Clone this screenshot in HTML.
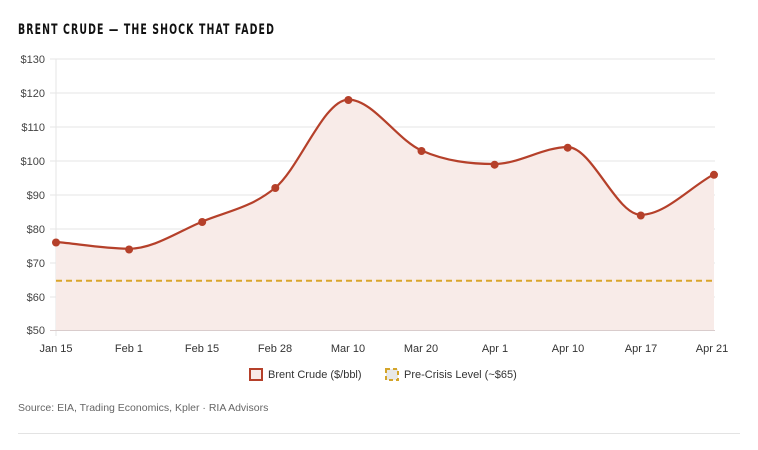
<!DOCTYPE html>
<html><head><meta charset="utf-8"><style>
body{margin:0;background:#fff;width:758px;height:445px;overflow:hidden;font-family:"Liberation Sans",sans-serif}
</style></head><body>
<svg width="758" height="445" viewBox="0 0 758 445" xmlns="http://www.w3.org/2000/svg">
<text x="18" y="34" font-family="DejaVu Sans Condensed,Liberation Sans Narrow,Liberation Sans,sans-serif" font-weight="bold" font-size="14" letter-spacing="1.5" fill="#111" textLength="257" lengthAdjust="spacingAndGlyphs">BRENT CRUDE — THE SHOCK THAT FADED</text>
<g stroke="#e6e6e6" stroke-width="1">
<line x1="50" y1="59" x2="715" y2="59"/><line x1="50" y1="93" x2="715" y2="93"/><line x1="50" y1="127" x2="715" y2="127"/><line x1="50" y1="161" x2="715" y2="161"/><line x1="50" y1="195" x2="715" y2="195"/><line x1="50" y1="229" x2="715" y2="229"/><line x1="50" y1="263" x2="715" y2="263"/><line x1="50" y1="297" x2="715" y2="297"/>
<line x1="56" y1="59" x2="56" y2="336"/>
</g>
<line x1="50" y1="330.5" x2="715" y2="330.5" stroke="#d9cccc" stroke-width="1"/>
<g font-size="11" fill="#444" text-anchor="end">
<text x="45" y="63">$130</text><text x="45" y="97">$120</text><text x="45" y="131">$110</text><text x="45" y="165">$100</text><text x="45" y="199">$90</text><text x="45" y="233">$80</text><text x="45" y="267">$70</text><text x="45" y="301">$60</text><text x="45" y="334">$50</text>
</g>
<g font-size="11" fill="#333" text-anchor="middle">
<text x="56" y="352">Jan 15</text><text x="129" y="352">Feb 1</text><text x="202" y="352">Feb 15</text><text x="275" y="352">Feb 28</text><text x="348" y="352">Mar 10</text><text x="421" y="352">Mar 20</text><text x="495" y="352">Apr 1</text><text x="568" y="352">Apr 10</text><text x="641" y="352">Apr 17</text><text x="712" y="352">Apr 21</text>
</g>
<path d="M56,241.9 C80.4,244.2 104.6,248.7 129.1,248.7 C153.5,248.7 177.8,231.8 202.2,221.6 C226.6,211.4 250.9,208 275.3,187.7 C299.7,167.4 324,99.6 348.4,99.6 C372.8,99.6 397.1,139.8 421.5,150.5 C445.9,161.2 470.2,164 494.6,164 C519,164 543.3,147.1 567.7,147.1 C592.1,147.1 616.4,214.8 640.8,214.8 C665.2,214.8 689.5,187.7 714,174.2 L714,330 L56,330 Z" fill="#f8ebe8"/>
<line x1="56" y1="280.8" x2="714" y2="280.8" stroke="#d9a52a" stroke-width="2" stroke-dasharray="6,4"/>
<path d="M56,241.9 C80.4,244.2 104.6,248.7 129.1,248.7 C153.5,248.7 177.8,231.8 202.2,221.6 C226.6,211.4 250.9,208 275.3,187.7 C299.7,167.4 324,99.6 348.4,99.6 C372.8,99.6 397.1,139.8 421.5,150.5 C445.9,161.2 470.2,164 494.6,164 C519,164 543.3,147.1 567.7,147.1 C592.1,147.1 616.4,214.8 640.8,214.8 C665.2,214.8 689.5,187.7 714,174.2" fill="none" stroke="#b5402a" stroke-width="2.2"/>
<g fill="#b5402a">
<circle cx="56" cy="242.5" r="4"/><circle cx="129.1" cy="249.5" r="4"/><circle cx="202.2" cy="222" r="4"/><circle cx="275.3" cy="188" r="4"/><circle cx="348.4" cy="100" r="4"/><circle cx="421.5" cy="151" r="4"/><circle cx="494.6" cy="164.7" r="4"/><circle cx="567.7" cy="147.7" r="4"/><circle cx="640.8" cy="215.5" r="4"/><circle cx="714" cy="174.8" r="4"/>
</g>
<rect x="250" y="369" width="12" height="11" fill="#f8ebe8" stroke="#b5402a" stroke-width="2"/>
<text x="268" y="378" font-size="11" fill="#333">Brent Crude ($/bbl)</text>
<rect x="386" y="369" width="12" height="11" fill="#e8e8e8" stroke="#d4a52a" stroke-width="2" stroke-dasharray="4,3"/>
<text x="404" y="378" font-size="11" fill="#333">Pre-Crisis Level (~$65)</text>
<text x="18" y="411" font-size="10.5" fill="#666">Source: EIA, Trading Economics, Kpler · RIA Advisors</text>
<line x1="18" y1="433.5" x2="740" y2="433.5" stroke="#e3e3e3" stroke-width="1"/>
</svg>
</body></html>
